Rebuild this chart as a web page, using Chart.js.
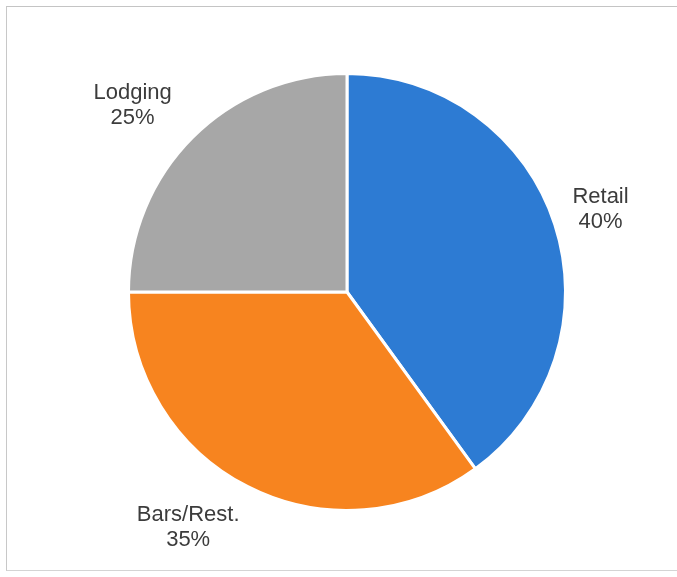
<!DOCTYPE html>
<html>
<head>
<meta charset="utf-8">
<script src="https://cdn.jsdelivr.net/npm/chart.js@4.4.1/dist/chart.umd.min.js"></script>
<style>
  html, body { margin: 0; padding: 0; background: #ffffff; }
  #wrap { position: relative; width: 677px; height: 577px; overflow: hidden; }
  #frame {
    position: absolute; left: 6px; top: 6px; width: 680px; height: 565px;
    border-left: 1px solid #c8c8c8; border-top: 1px solid #c4c4c4; border-bottom: 1px solid #d4d4d4;
    box-sizing: border-box;
  }
  canvas { position: absolute; left: 0; top: 0; }
</style>
</head>
<body>
<div id="wrap">
  <div id="frame"></div>
  <canvas id="chart" width="677" height="577"></canvas>
</div>
<script>
// Revenue share by business type
const categories = ['Retail', 'Bars/Rest.', 'Lodging'];
const shares = [40, 35, 25];
const sliceColors = ['#2d7bd3', '#f7841f', '#a7a7a7'];

// Two-line outside labels: category name above, percentage below
const outsideLabels = {
  id: 'outsideLabels',
  afterDatasetsDraw(chart, args, opts) {
    const ctx = chart.ctx;
    const meta = chart.getDatasetMeta(0);
    ctx.save();
    ctx.font = opts.font;
    ctx.fillStyle = opts.color;
    ctx.textAlign = 'center';
    ctx.textBaseline = 'middle';
    meta.data.forEach((arc, i) => {
      const mid = (arc.startAngle + arc.endAngle) / 2 + (opts.angleShift[i] || 0) * Math.PI / 180;
      const d = arc.outerRadius * opts.radius[i];
      const x = arc.x + Math.cos(mid) * d;
      const y = arc.y + Math.sin(mid) * d;
      const lh = opts.lineHeight;
      ctx.fillText(chart.data.labels[i], x, y - lh / 2);
      ctx.fillText(chart.data.datasets[0].data[i] + '%', x, y + lh / 2);
    });
    ctx.restore();
  }
};

new Chart(document.getElementById('chart'), {
  type: 'pie',
  data: {
    labels: categories,
    datasets: [{
      data: shares,
      backgroundColor: sliceColors,
      borderColor: '#ffffff',
      borderWidth: 3
    }]
  },
  options: {
    responsive: false,
    animation: false,
    layout: { padding: { left: 127, right: 110, top: 71, bottom: 64 } },
    plugins: {
      legend: { display: false },
      tooltip: { enabled: false },
      outsideLabels: {
        font: '22px "Liberation Sans", Arial, sans-serif',
        color: '#3c3c3c',
        lineHeight: 25,
        radius: [1.22, 1.3, 1.3],
        angleShift: [0, 7, -4]
      }
    }
  },
  plugins: [outsideLabels]
});
</script>
</body>
</html>
